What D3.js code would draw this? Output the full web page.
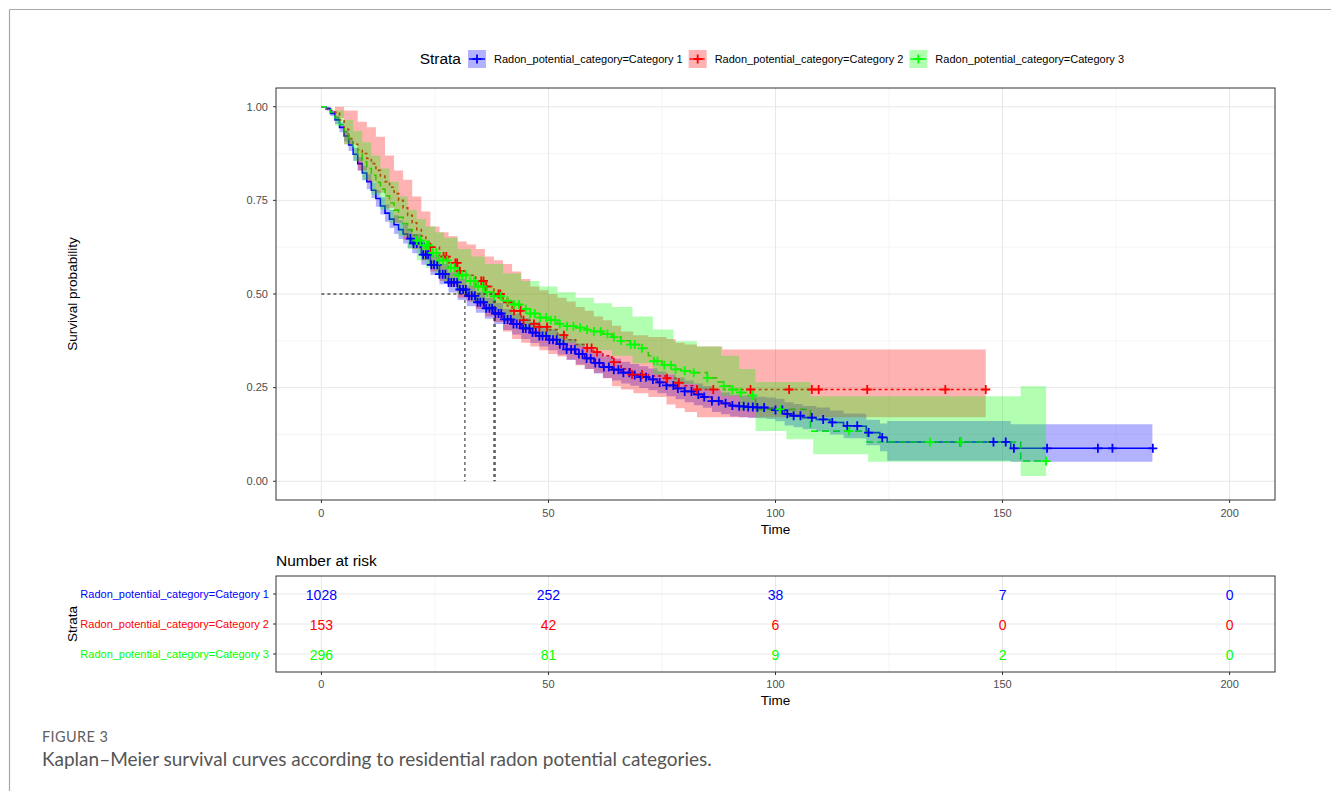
<!DOCTYPE html>
<html><head><meta charset="utf-8">
<script src="https://cdn.jsdelivr.net/npm/d3@7"></script>
<style>
body{margin:0;background:#fff;}
svg{display:block;font-family:"Liberation Sans",Arial,sans-serif;}
</style>
</head><body>
<svg id="c" width="1331" height="791"></svg>
<script>
// ---------------- DATA ----------------
const strataNames = ["Radon_potential_category=Category 1","Radon_potential_category=Category 2","Radon_potential_category=Category 3"];
const xTicks = [0, 50, 100, 150, 200];
const yTicks = [0, 0.25, 0.5, 0.75, 1.0];
const yTickLabels = ["0.00","0.25","0.50","0.75","1.00"];

// Category 1 (KM estimate + 95% band, same time grid)
const cat1Time = [0,1,2,3,4,5,6,7,8,9,10,11,12,13,14,15,16,17,18,19,20,22,24,26,28,30,32,34,36,38,40,42,44,46,48,50,52,54,56,58,60,62,64,66,68,70,72,74,76,78,80,82,84,86,88,90,92,94,96,98,100,102,104,106,109,112,115,119,120,123,124.6,151.8,183];
const cat1Surv = [1,0.995,0.982,0.965,0.945,0.922,0.898,0.873,0.848,0.823,0.8,0.777,0.755,0.735,0.716,0.7,0.685,0.672,0.66,0.648,0.635,0.605,0.578,0.553,0.531,0.512,0.495,0.478,0.462,0.448,0.432,0.42,0.408,0.397,0.388,0.378,0.366,0.352,0.34,0.328,0.316,0.305,0.298,0.29,0.284,0.278,0.272,0.264,0.256,0.248,0.24,0.232,0.225,0.214,0.208,0.202,0.2,0.198,0.197,0.195,0.19,0.18,0.175,0.17,0.165,0.157,0.148,0.147,0.13,0.117,0.105,0.088,0.088];
const cat1Lower = [1,0.99,0.975,0.954,0.932,0.907,0.882,0.856,0.83,0.804,0.78,0.756,0.733,0.712,0.693,0.676,0.66,0.647,0.635,0.623,0.609,0.578,0.551,0.526,0.504,0.484,0.467,0.45,0.434,0.42,0.404,0.392,0.38,0.369,0.36,0.35,0.338,0.324,0.312,0.3,0.288,0.276,0.269,0.261,0.255,0.249,0.243,0.235,0.227,0.219,0.211,0.203,0.196,0.185,0.179,0.173,0.171,0.169,0.168,0.166,0.16,0.149,0.144,0.139,0.133,0.125,0.115,0.114,0.096,0.08,0.055,0.052,0.052];
const cat1Upper = [1,1,0.989,0.976,0.958,0.937,0.914,0.89,0.866,0.842,0.82,0.798,0.777,0.758,0.739,0.724,0.71,0.697,0.685,0.673,0.661,0.632,0.605,0.58,0.558,0.54,0.523,0.506,0.49,0.476,0.46,0.448,0.436,0.425,0.416,0.406,0.394,0.38,0.368,0.356,0.344,0.334,0.327,0.319,0.313,0.307,0.301,0.293,0.285,0.277,0.269,0.261,0.254,0.243,0.237,0.231,0.229,0.227,0.226,0.224,0.22,0.211,0.206,0.201,0.197,0.189,0.181,0.18,0.164,0.154,0.161,0.152,0.152];
const cat1Censor = [19.6,20.3,21,21.8,22.4,23,23.5,24.2,24.8,25.5,26,26.7,27.3,28,28.6,29.2,29.9,30.5,31.2,31.8,32.5,33.1,33.8,34.4,35,35.7,36.3,37,37.6,38.3,39,39.6,40.3,41,41.7,42.3,43,43.7,44.4,45,45.8,46.5,47.2,48,48.7,49.5,50.2,51,51.8,52.5,53.3,54,55,55.8,56.7,57.5,58.4,59.3,60.3,61.2,62.2,63.3,64.4,65.4,66.5,67.8,69,70.3,71.5,73,74.5,76,77.5,78.5,80,81.5,83,84.3,86,87.5,89,90.5,92,93,94,95,96,97.5,100,101.5,102.6,104,105.5,108,110.5,112.5,115.8,118,120.5,123.5,140.7,148,150.7,152.5,159.8,171,174.2,183.1];

// Category 2
const cat2Time = [0,1,2,3,4,5,6,7,8,9,10,11,12,13,14,15,16,17,18,19,20,21,22,23,24,26,28,30,32,34,36,38,40,42,44,46,48,50,52,54,56,58,60,62,64,66,68,72,76,78,80,82.7,146.3];
const cat2Surv = [1,0.995,0.99,0.985,0.965,0.94,0.915,0.9,0.885,0.875,0.862,0.848,0.83,0.815,0.8,0.785,0.768,0.75,0.73,0.71,0.69,0.672,0.655,0.64,0.625,0.6,0.583,0.561,0.55,0.535,0.52,0.5,0.478,0.455,0.43,0.42,0.412,0.405,0.39,0.378,0.365,0.356,0.345,0.335,0.318,0.3,0.285,0.281,0.275,0.263,0.255,0.245,0.245];
const cat2BandTime = [0,3,5,8,10,12,14,16,18,20,22,24,26,28,30,32,34,36,38,40,42,44,46,48,50,52,54,56,58,60,62,64,66,68.7,72,76,78,80,82.7,88.3,146.3];
const cat2Upper = [1,1,0.99,0.96,0.945,0.92,0.87,0.83,0.805,0.76,0.72,0.68,0.665,0.654,0.64,0.632,0.62,0.6,0.59,0.58,0.56,0.54,0.52,0.51,0.5,0.49,0.48,0.465,0.455,0.44,0.43,0.415,0.4,0.39,0.385,0.38,0.37,0.365,0.36,0.352,0.352];
const cat2Lower = [1,0.97,0.9,0.83,0.8,0.77,0.73,0.69,0.645,0.62,0.59,0.56,0.535,0.52,0.49,0.48,0.46,0.44,0.425,0.4,0.38,0.37,0.36,0.35,0.34,0.333,0.325,0.31,0.3,0.29,0.275,0.254,0.245,0.235,0.225,0.205,0.195,0.185,0.171,0.171,0.171];
const cat2Censor = [24,26.9,27.5,29.5,29.9,30.5,35.2,35.7,36.3,39,39.4,41,42.4,43.8,44.5,46.8,48,49.7,53.4,58.5,59.5,60.7,64.4,68.4,70.6,76.1,78.7,82.7,86.3,94.5,103,108,109.5,120.2,137.4,146.3];

// Category 3
const cat3Time = [0,1,2,3,4,5,6,7,8,9,10,11,12,13,14,15,16,17,18,19,20,21,22,24,26,28,30,32,34,36,38,40,42,44,46,48,50,52,54,56,58,60,62,64,66,68,70,72,73.2,75,77.6,80,82,85,87,88.6,90.5,92.3,94,95.6,107.7,120.2,154,159.6];
const cat3Surv = [1,0.995,0.985,0.97,0.952,0.933,0.913,0.893,0.873,0.853,0.835,0.817,0.798,0.78,0.762,0.743,0.724,0.705,0.688,0.672,0.657,0.643,0.63,0.61,0.59,0.57,0.55,0.535,0.52,0.505,0.494,0.482,0.472,0.46,0.448,0.437,0.43,0.42,0.414,0.41,0.405,0.4,0.393,0.385,0.375,0.365,0.355,0.335,0.321,0.31,0.299,0.295,0.29,0.276,0.265,0.254,0.245,0.237,0.229,0.192,0.134,0.105,0.054,0.054];
const cat3BandTime = [0,3,5,7,9,11,13,15,17,19,21,23,25,27,30,33,36,40,44,48,52,56,60,64,68.5,73,77.5,82.7,88,92,95.6,102.4,107.7,108.3,120.4,154,159.6];
const cat3Upper = [1,0.99,0.965,0.935,0.905,0.87,0.835,0.8,0.76,0.725,0.7,0.68,0.665,0.65,0.62,0.6,0.58,0.555,0.535,0.52,0.505,0.49,0.475,0.465,0.44,0.405,0.374,0.36,0.335,0.3,0.265,0.265,0.227,0.227,0.227,0.254,0.254];
const cat3Lower = [1,0.95,0.9,0.855,0.805,0.765,0.725,0.69,0.655,0.62,0.59,0.57,0.55,0.53,0.5,0.48,0.455,0.43,0.405,0.385,0.37,0.36,0.35,0.335,0.315,0.285,0.26,0.245,0.228,0.19,0.134,0.112,0.112,0.072,0.052,0.014,0.014];
const cat3Censor = [21,21.8,22.5,23.2,23.6,24.5,25.3,26,26.8,27.7,28.5,29.3,30.2,31,31.8,32.8,33.6,34.5,35.5,36.5,38,39.5,41,42.4,43.5,45,46,47,48.2,49.5,50.5,51.5,52.5,54.1,55.5,57,58.5,60,61.5,63,64.4,66,68.1,69,70.6,73.2,74,75.5,77,78,80,82,85,88.6,90.5,92.3,95,101,116.2,134,140.7,159.6];

const medianTimes = [31.6, 38.0, 38.25];

const riskTimes = [0, 50, 100, 150, 200];
const risk1 = [1028, 252, 38, 7, 0];
const risk2 = [153, 42, 6, 0, 0];
const risk3 = [296, 81, 9, 2, 0];

// ---------------- DRAWING ----------------
const colors = ["#0000FF", "#FF0000", "#00FF00"];
const dashes = [null, "3,3", "7,4"];
const svg = d3.select("#c");

// outer frame
svg.append("line").attr("x1",9.5).attr("y1",9.5).attr("x2",1331).attr("y2",9.5).attr("stroke","#a8a8a8").attr("stroke-width",1.2);
svg.append("line").attr("x1",9.5).attr("y1",9.5).attr("x2",9.5).attr("y2",791).attr("stroke","#a8a8a8").attr("stroke-width",1.2);

const P = {l:276, r:1275, t:88, b:500};
const x = d3.scaleLinear().domain([-10,210]).range([P.l,P.r]);
const y = d3.scaleLinear().domain([-0.05,1.05]).range([P.b,P.t]);

// grid
const g = svg.append("g");
const minorX = [25,75,125,175];
const minorY = [0.125,0.375,0.625,0.875];
g.selectAll(".mx").data(minorX).join("line").attr("x1",d=>x(d)).attr("x2",d=>x(d)).attr("y1",P.t).attr("y2",P.b).attr("stroke","#f0f0f0").attr("stroke-width",0.7);
g.selectAll(".my").data(minorY).join("line").attr("y1",d=>y(d)).attr("y2",d=>y(d)).attr("x1",P.l).attr("x2",P.r).attr("stroke","#f0f0f0").attr("stroke-width",0.7);
g.selectAll(".gx").data(xTicks).join("line").attr("x1",d=>x(d)).attr("x2",d=>x(d)).attr("y1",P.t).attr("y2",P.b).attr("stroke","#e8e8e8").attr("stroke-width",1);
g.selectAll(".gy").data(yTicks).join("line").attr("y1",d=>y(d)).attr("y2",d=>y(d)).attr("x1",P.l).attr("x2",P.r).attr("stroke","#e8e8e8").attr("stroke-width",1);

const strata = [
  {time:cat1Time, surv:cat1Surv, bt:cat1Time, lo:cat1Lower, hi:cat1Upper, cens:cat1Censor},
  {time:cat2Time, surv:cat2Surv, bt:cat2BandTime, lo:cat2Lower, hi:cat2Upper, cens:cat2Censor},
  {time:cat3Time, surv:cat3Surv, bt:cat3BandTime, lo:cat3Lower, hi:cat3Upper, cens:cat3Censor}
];
const plot = svg.append("g");
const line = d3.line().curve(d3.curveStepAfter).x(d=>x(d[0])).y(d=>y(d[1]));
const area = d3.area().curve(d3.curveStepAfter).x(d=>x(d[0])).y0(d=>y(d[1])).y1(d=>y(d[2]));

// step lines
strata.forEach((s,i)=>{
  plot.append("path").datum(s.time.map((t,k)=>[t,s.surv[k]]))
    .attr("d",line).attr("fill","none").attr("stroke",colors[i]).attr("stroke-width",1.6)
    .attr("stroke-dasharray",dashes[i]);
});
// ribbons
strata.forEach((s,i)=>{
  plot.append("path").datum(s.bt.map((t,k)=>[t,s.lo[k],s.hi[k]]))
    .attr("d",area).attr("fill",colors[i]).attr("fill-opacity",0.3).attr("stroke","none");
});
// median lines
const maxMed = d3.max(medianTimes);
plot.append("line").attr("x1",x(0)).attr("x2",x(maxMed)).attr("y1",y(0.5)).attr("y2",y(0.5))
  .attr("stroke","#000").attr("stroke-width",1).attr("stroke-dasharray","3,3");
medianTimes.forEach(m=>{
  plot.append("line").attr("x1",x(m)).attr("x2",x(m)).attr("y1",y(0.5)).attr("y2",y(0))
    .attr("stroke","#000").attr("stroke-opacity",0.8).attr("stroke-width",1.1).attr("stroke-dasharray","3,3");
});
// censor marks
strata.forEach((s,i)=>{
  const sv = t => s.surv[Math.max(0, d3.bisectRight(s.time, t)-1)];
  plot.selectAll(null).data(s.cens).join("path")
    .attr("transform",t=>`translate(${x(t)},${y(sv(t))})`)
    .attr("d","M-4.5,0H4.5M0,-4.5V4.5").attr("stroke",colors[i]).attr("stroke-width",1.8).attr("fill","none");
});

// panel border
svg.append("rect").attr("x",P.l).attr("y",P.t).attr("width",P.r-P.l).attr("height",P.b-P.t).attr("fill","none").attr("stroke","#333").attr("stroke-width",1);

// axes
const axC = "#4d4d4d";
const yAxis = svg.append("g");
yTicks.forEach((v,k)=>{
  yAxis.append("line").attr("x1",P.l-3).attr("x2",P.l).attr("y1",y(v)).attr("y2",y(v)).attr("stroke","#333");
  yAxis.append("text").attr("x",P.l-8).attr("y",y(v)).attr("dy","0.35em").attr("text-anchor","end").attr("font-size",11).attr("fill",axC).text(yTickLabels[k]);
});
const xAxis = svg.append("g");
xTicks.forEach(v=>{
  xAxis.append("line").attr("x1",x(v)).attr("x2",x(v)).attr("y1",P.b).attr("y2",P.b+3).attr("stroke","#333");
  xAxis.append("text").attr("x",x(v)).attr("y",P.b+17).attr("text-anchor","middle").attr("font-size",11).attr("fill",axC).text(v);
});
svg.append("text").attr("x",x(100)).attr("y",534).attr("text-anchor","middle").attr("font-size",13.5).text("Time");
svg.append("text").attr("transform",`translate(77,${y(0.5)}) rotate(-90)`).attr("text-anchor","middle").attr("font-size",13.5).text("Survival probability");

// legend
const leg = svg.append("g");
leg.append("text").attr("x",461).attr("y",59).attr("dy","0.35em").attr("text-anchor","end").attr("font-size",15.5).text("Strata");
let lx = 468;
strataNames.forEach((nm,i)=>{
  const kg = leg.append("g").attr("transform",`translate(${lx},50)`);
  kg.append("rect").attr("width",18).attr("height",18).attr("fill",colors[i]).attr("fill-opacity",0.3);
  kg.append("line").attr("x1",1).attr("x2",17).attr("y1",9).attr("y2",9).attr("stroke",colors[i]).attr("stroke-width",1.5).attr("stroke-dasharray",dashes[i]);
  kg.append("path").attr("d","M4.5,9H13.5M9,4.5V13.5").attr("stroke",colors[i]).attr("stroke-width",1.8);
  const t = leg.append("text").attr("x",lx+26).attr("y",59).attr("dy","0.35em").attr("font-size",11).text(nm);
  lx = lx + 26 + t.node().getComputedTextLength() + 6;
});

// ---------------- RISK TABLE ----------------
const R = {l:276, r:1275, t:576, b:672};
const yr = d3.scalePoint().domain(strataNames).range([R.t,R.b]).padding(0.6);
const rg = svg.append("g");
minorX.forEach(v=>rg.append("line").attr("x1",x(v)).attr("x2",x(v)).attr("y1",R.t).attr("y2",R.b).attr("stroke","#f0f0f0").attr("stroke-width",0.7));
xTicks.forEach(v=>rg.append("line").attr("x1",x(v)).attr("x2",x(v)).attr("y1",R.t).attr("y2",R.b).attr("stroke","#e8e8e8"));
strataNames.forEach(n=>rg.append("line").attr("x1",R.l).attr("x2",R.r).attr("y1",yr(n)).attr("y2",yr(n)).attr("stroke","#e8e8e8"));
const risks = [risk1, risk2, risk3];
risks.forEach((arr,i)=>{
  rg.selectAll(null).data(riskTimes).join("text")
    .attr("x",t=>x(t)).attr("y",yr(strataNames[i])).attr("dy","0.4em").attr("text-anchor","middle")
    .attr("font-size",14).attr("fill",colors[i]).text((t,k)=>arr[k]);
});
rg.append("rect").attr("x",R.l).attr("y",R.t).attr("width",R.r-R.l).attr("height",R.b-R.t).attr("fill","none").attr("stroke","#333");
strataNames.forEach((n,i)=>{
  rg.append("line").attr("x1",R.l-3).attr("x2",R.l).attr("y1",yr(n)).attr("y2",yr(n)).attr("stroke","#333");
  rg.append("text").attr("x",R.l-7).attr("y",yr(n)).attr("dy","0.35em").attr("text-anchor","end").attr("font-size",11).attr("fill",colors[i]).text(n);
});
xTicks.forEach(v=>{
  rg.append("line").attr("x1",x(v)).attr("x2",x(v)).attr("y1",R.b).attr("y2",R.b+3).attr("stroke","#333");
  rg.append("text").attr("x",x(v)).attr("y",R.b+16).attr("text-anchor","middle").attr("font-size",11).attr("fill",axC).text(v);
});
rg.append("text").attr("x",x(100)).attr("y",705).attr("text-anchor","middle").attr("font-size",13.5).text("Time");
rg.append("text").attr("transform",`translate(77,${yr(strataNames[1])}) rotate(-90)`).attr("text-anchor","middle").attr("font-size",13.5).text("Strata");
rg.append("text").attr("x",276).attr("y",566).attr("font-size",15.5).text("Number at risk");

// caption
svg.append("text").attr("x",42).attr("y",742).attr("font-family","Lato, 'Open Sans', sans-serif").attr("font-size",14.5).attr("letter-spacing",0.4).attr("fill","#5f5f5f").text("FIGURE 3");
svg.append("text").attr("x",42).attr("y",766).attr("font-family","Lato, 'Open Sans', sans-serif").attr("font-size",19).attr("fill","#555").text("Kaplan–Meier survival curves according to residential radon potential categories.");
</script>
</body></html>
